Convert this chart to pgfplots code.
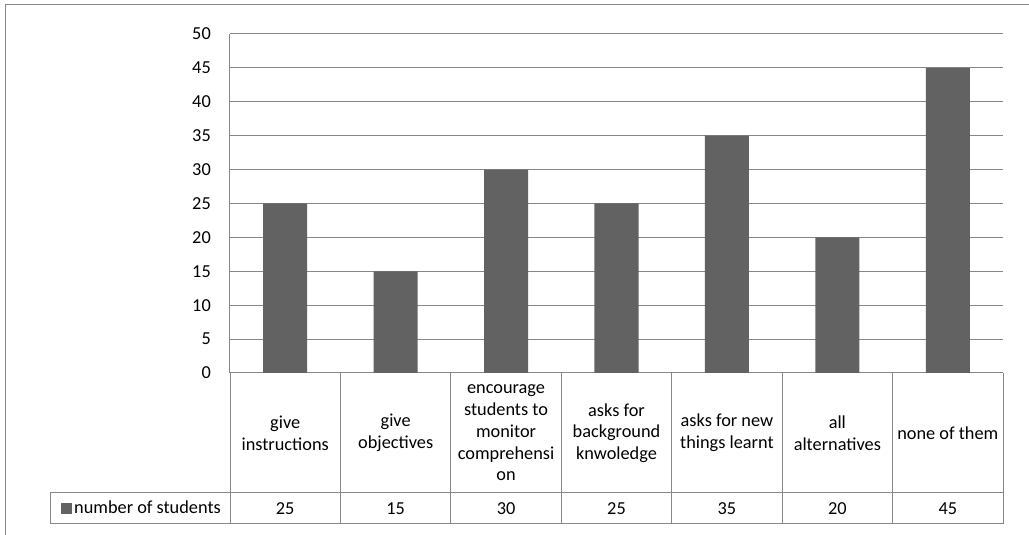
\documentclass[border=0pt]{standalone}
\usepackage{fontspec}
\setmainfont{Carlito}
\usepackage{pgfplots}
\usepackage{pgfplotstable}
\pgfplotsset{compat=1.18}
\definecolor{barc}{HTML}{626262}
\definecolor{linec}{HTML}{878787}

\pgfplotstableread{
x y
0 25
1 15
2 30
3 25
4 35
5 20
6 45
}\students

\begin{document}
\fontsize{18.3}{21.7}\selectfont
\begin{tikzpicture}[x=1pt,y=1pt]
\useasboundingbox (0,0) rectangle (1029,535);
\draw[linec, line width=1pt] (5,0) -- (5,530) -- (1029,530);
\begin{axis}[
  at={(230pt,162pt)}, anchor=south west,
  scale only axis, width=773pt, height=339pt,
  xmin=-0.5, xmax=6.5, ymin=0, ymax=50,
  ytick={0,5,...,50}, xtick=data,
  xticklabels={{give\\instructions},{give\\objectives},{encourage\\students to\\monitor\\comprehensi\\on},{asks for\\background\\knwoledge},{asks for new\\things learnt},{all\\alternatives},{none of them}},
  xticklabel style={align=center, anchor=center, yshift=-60pt, inner sep=0pt},
  yticklabel style={anchor=east, inner sep=0pt, xshift=-19pt},
  major tick length=0pt,
  axis x line=bottom, axis y line=left,
  axis line style={draw=linec, line width=1pt, -},
  ymajorgrids, grid style={linec, line width=1pt},
  /pgf/number format/assume math mode=true,
  clip=false,
  legend style={at={(axis description cs:-0.2186,-0.3997)}, anchor=west, draw=none, fill=none, inner sep=0pt},
  legend image code/.code={\fill[barc] (0pt,-5.5pt) rectangle (11pt,5.5pt);},
]
\addplot[ybar, bar width=44pt, fill=barc, draw=none] table[x=x, y=y] {\students};
\addlegendentry{number of students}
\addplot[draw=none, mark=none, forget plot, nodes near coords, point meta=\thisrow{y},
  nodes near coords style={anchor=center}] table[x=x, y expr=-20] {\students};
\end{axis}
\begin{scope}[linec, line width=1pt]
\draw (50,42) -- (1003,42);
\draw (50,11) -- (1003,11);
\draw (50,11) -- (50,42);
\foreach \k in {0,...,7} {\draw ({230+\k*110.43},11) -- ({230+\k*110.43},162);}
\end{scope}
\end{tikzpicture}
\end{document}
